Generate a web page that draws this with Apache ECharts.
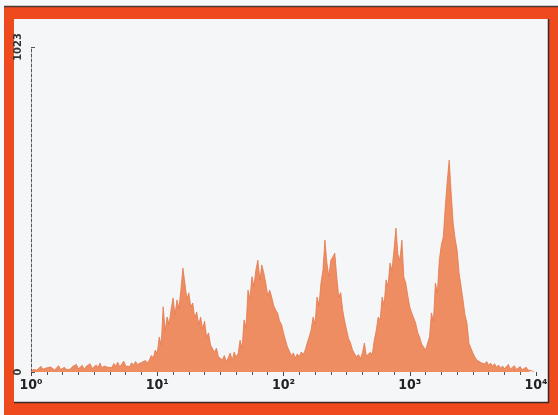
<!DOCTYPE html>
<html>
<head>
<meta charset="utf-8">
<style>
  html, body { margin: 0; padding: 0; background: #f7f8f9; }
  #chart { width: 558px; height: 415px; }
</style>
<script src="https://cdn.jsdelivr.net/npm/echarts@6/dist/echarts.min.js"></script>
</head>
<body>
<div id="chart"></div>
<script>
// 256-channel log-scale fluorescence histogram (4 decades, 64 channels per decade)
const channelCount = 256;
const channelsPerDecade = 64;

// event counts per channel
const counts = [
  0, 8, 14, 6, 11, 18, 9, 5, 13, 7, 16, 10, 6, 12, 20, 8, 11, 15, 7, 13,
  9, 17, 12, 24, 10, 15, 21, 8, 18, 13, 26, 11, 16, 22, 14, 28, 12, 19, 25, 15,
  20, 14, 27, 18, 31, 16, 22, 34, 19, 25, 17, 29, 21, 33, 24, 18, 30, 26, 36, 28,
  38, 52, 44, 69, 58, 110, 85, 205, 130, 173, 150, 195, 233, 180, 227, 200, 260, 327, 280, 230,
  249, 205, 217, 170, 189, 150, 173, 135, 160, 110, 123, 85, 91, 62, 75, 48, 54, 38, 52, 33,
  45, 60, 36, 63, 47, 58, 100, 75, 164, 140, 258, 230, 300, 270, 321, 352, 290, 337, 312, 280,
  240, 258, 236, 210, 195, 186, 160, 150, 123, 100, 79, 65, 52, 60, 44, 57, 48, 63, 55, 69,
  91, 110, 132, 173, 150, 236, 210, 280, 321, 415, 343, 300, 352, 362, 374, 299, 236, 250, 195, 160,
  132, 105, 91, 69, 58, 47, 55, 42, 60, 91, 50, 44, 62, 55, 100, 130, 173, 164, 236, 210,
  290, 270, 343, 320, 384, 453, 370, 352, 415, 299, 280, 240, 205, 186, 170, 154, 125, 110, 88, 79,
  69, 65, 110, 186, 160, 280, 250, 352, 400, 425, 519, 600, 667, 563, 469, 420, 384, 312, 270, 227,
  180, 154, 91, 75, 60, 47, 38, 44, 30, 36, 25, 33, 21, 28, 18, 26, 15, 22, 12, 19,
  10, 16, 24, 9, 14, 20, 8, 13, 17, 7, 11, 15, 6, 9, 4, 0
];

// decade labels on the channel axis
const decadeLabels = ['10\u2070', '10\u00b9', '10\u00b2', '10\u00b3', '10\u2074'];
// full-scale count range of the y axis
const yMax = 1023;

const chart = echarts.init(document.getElementById('chart'), null, { renderer: 'canvas' });

const seriesData = counts.map((c, i) => [i, c]);

chart.setOption({
  backgroundColor: 'transparent',
  animation: false,
  graphic: [
    { type: 'rect', z: -20, silent: true, shape: { x: 4, y: 7, width: 554, height: 408 }, style: { fill: '#ee4a1e' } },
    { type: 'rect', z: -19, silent: true, shape: { x: 14, y: 19, width: 534, height: 383 }, style: { fill: '#f4f6f8' } },
    { type: 'line', z: -18, silent: true, shape: { x1: 4, y1: 6.5, x2: 558, y2: 6.5 }, style: { stroke: '#4a3a36', lineWidth: 1.5 } },
    { type: 'line', z: -18, silent: true, shape: { x1: 548.5, y1: 19, x2: 548.5, y2: 403 }, style: { stroke: '#3c2a26', lineWidth: 1.5 } },
    { type: 'line', z: -18, silent: true, shape: { x1: 14, y1: 402.5, x2: 549, y2: 402.5 }, style: { stroke: '#3c2a26', lineWidth: 1.5 } }
  ],
  grid: { left: 31, right: 22, top: 47, bottom: 43, containLabel: false },
  xAxis: {
    type: 'value',
    min: 0,
    max: channelCount,
    interval: channelsPerDecade,
    axisLine: { show: false },
    axisTick: { show: true, length: 4, lineStyle: { color: '#444', width: 1 } },
    minorTick: { show: true, splitNumber: 8, length: 3, lineStyle: { color: '#555', width: 1 } },
    splitLine: { show: false },
    axisLabel: {
      margin: 6,
      color: '#222',
      fontFamily: 'DejaVu Sans Condensed, DejaVu Sans, sans-serif',
      fontSize: 14,
      fontWeight: 'bold',
      formatter: v => decadeLabels[Math.round(v / channelsPerDecade)]
    }
  },
  yAxis: {
    type: 'value',
    min: 0,
    max: yMax,
    interval: yMax,
    offset: 3,
    axisLine: { show: true, lineStyle: { color: '#555', width: 1, type: [3, 2] } },
    axisTick: { show: true, inside: true, length: 4, lineStyle: { color: '#555' } },
    splitLine: { show: false },
    axisLabel: {
      rotate: 90,
      margin: 4,
      color: '#333',
      fontFamily: 'DejaVu Sans Condensed, DejaVu Sans, sans-serif',
      fontSize: 11,
      fontWeight: 'bold',
      formatter: v => String(v)
    }
  },
  series: [{
    type: 'line',
    data: seriesData,
    showSymbol: false,
    symbol: 'none',
    smooth: false,
    lineStyle: { color: '#e4774b', width: 0.8 },
    areaStyle: { color: '#ef8d62', opacity: 1 }
  }]
});
</script>
</body>
</html>
